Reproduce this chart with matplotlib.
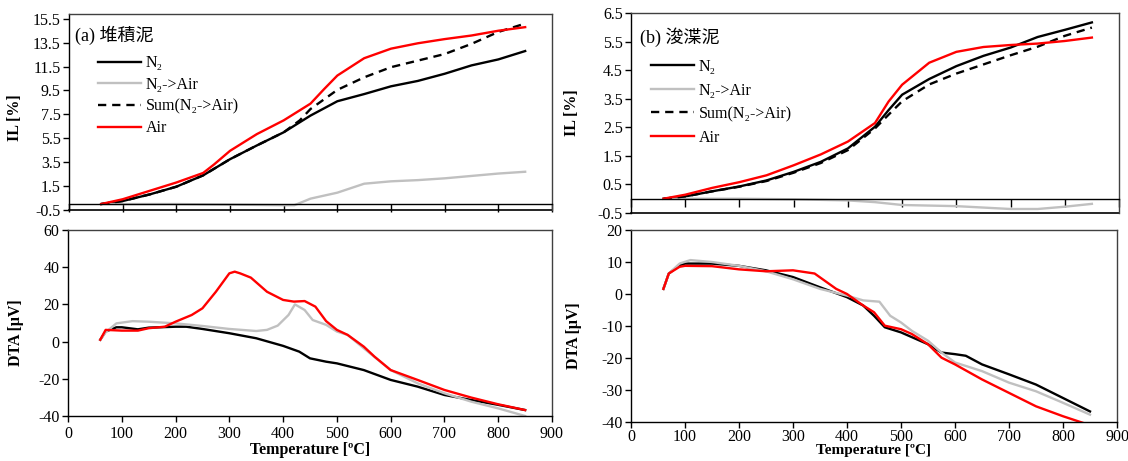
import matplotlib
matplotlib.use("Agg")
import matplotlib.pyplot as plt
import numpy as np

plt.rcParams['font.family'] = ['Liberation Serif', 'DejaVu Serif']
plt.rcParams['axes.linewidth'] = 1.0
plt.rcParams['axes.unicode_minus'] = False

# ---------------- data: (a) sediment -----------------
a_il_n2_T = [60, 100, 150, 200, 250, 300, 350, 400, 450, 500, 550, 600, 650, 700, 750, 800, 850]
a_il_n2 = [0.0, 0.25, 0.8, 1.45, 2.4, 3.75, 4.9, 6.0, 7.4, 8.6, 9.2, 9.85, 10.3, 10.9, 11.6, 12.1, 12.8]

a_il_n2air_T = [60, 200, 300, 400, 420, 450, 500, 550, 600, 650, 700, 750, 800, 850]
a_il_n2air = [0.0, 0.0, -0.05, -0.1, -0.1, 0.45, 0.95, 1.7, 1.9, 2.0, 2.15, 2.35, 2.55, 2.7]

a_il_sum_T = [60, 100, 150, 200, 250, 300, 350, 400, 430, 450, 500, 550, 600, 650, 700, 750, 800, 850]
a_il_sum = [0.0, 0.25, 0.8, 1.45, 2.4, 3.75, 4.9, 6.0, 7.0, 7.95, 9.55, 10.6, 11.45, 12.0, 12.55, 13.4, 14.4, 15.1]

a_il_air_T = [60, 100, 150, 200, 250, 270, 300, 350, 400, 450, 475, 500, 550, 600, 650, 700, 750, 800, 850]
a_il_air = [0.0, 0.4, 1.1, 1.8, 2.6, 3.3, 4.45, 5.85, 7.0, 8.4, 9.6, 10.75, 12.2, 13.0, 13.45, 13.8, 14.1, 14.5, 14.8]

a_dta_n2_T = [60, 70, 90, 100, 130, 150, 200, 220, 250, 300, 350, 400, 430, 450, 480, 500, 550, 600, 650, 700, 750, 800, 850]
a_dta_n2 = [1, 5.4, 7.7, 7.7, 6.6, 7.5, 8.0, 8.0, 6.8, 4.5, 1.8, -2.3, -5.4, -9, -10.8, -11.7, -15.3, -20.6, -24.2, -28.7, -31.4, -34, -36.8]

a_dta_n2air_T = [60, 70, 90, 120, 150, 200, 250, 300, 350, 370, 390, 410, 422, 440, 455, 480, 500, 520, 550, 600, 650, 700, 750, 800, 850]
a_dta_n2air = [1, 5, 9.8, 11, 10.7, 9.8, 8.4, 6.8, 5.7, 6.3, 8.6, 14.3, 20, 17, 11.6, 9, 5.4, 3.6, -3.6, -15.3, -22.4, -27.8, -32.3, -35.9, -40]

a_dta_air_T = [60, 70, 100, 130, 150, 180, 200, 230, 250, 275, 300, 310, 320, 340, 370, 400, 420, 440, 460, 480, 500, 520, 550, 570, 600, 650, 700, 750, 800, 850]
a_dta_air = [1, 6.3, 5.9, 5.9, 7.2, 8, 10.7, 14.3, 17.9, 26.8, 36.7, 37.6, 36.7, 34.4, 26.8, 22.4, 21.5, 21.8, 18.8, 11, 6.3, 3.6, -2.7, -8.1, -15.3, -20.6, -26, -30.1, -33.7, -36.8]

# ---------------- data: (b) dredged -----------------
b_il_n2_T = [60, 100, 150, 200, 250, 300, 350, 400, 450, 475, 500, 550, 600, 650, 700, 750, 800, 850]
b_il_n2 = [0.0, 0.08, 0.26, 0.43, 0.64, 0.94, 1.29, 1.76, 2.52, 3.1, 3.64, 4.19, 4.64, 5.0, 5.29, 5.66, 5.91, 6.17]

b_il_n2air_T = [60, 200, 300, 400, 450, 500, 600, 700, 750, 800, 850]
b_il_n2air = [0.0, 0.0, -0.02, -0.06, -0.12, -0.22, -0.26, -0.36, -0.36, -0.28, -0.18]

b_il_sum_T = [60, 100, 150, 200, 250, 300, 350, 400, 450, 475, 500, 550, 600, 650, 700, 750, 800, 850]
b_il_sum = [0.0, 0.08, 0.26, 0.42, 0.62, 0.91, 1.25, 1.7, 2.46, 2.94, 3.41, 4.0, 4.38, 4.7, 5.02, 5.32, 5.7, 5.99]

b_il_air_T = [60, 100, 150, 200, 250, 300, 350, 400, 450, 475, 500, 550, 600, 650, 700, 750, 800, 850]
b_il_air = [0.0, 0.14, 0.38, 0.58, 0.82, 1.17, 1.55, 2.0, 2.65, 3.4, 3.99, 4.76, 5.14, 5.31, 5.38, 5.43, 5.52, 5.64]

b_dta_n2_T = [60, 70, 90, 100, 150, 200, 250, 300, 350, 400, 430, 450, 470, 500, 550, 575, 600, 620, 650, 700, 750, 800, 850]
b_dta_n2 = [1.6, 6.4, 9, 9.5, 9.5, 8.8, 7.4, 5.3, 2.1, -1.0, -3.6, -6.8, -10.4, -12, -15.7, -18.3, -18.8, -19.3, -22, -25.1, -28.3, -32.5, -36.7]

b_dta_n2air_T = [60, 70, 90, 110, 150, 200, 250, 300, 350, 400, 430, 460, 480, 500, 520, 550, 575, 600, 650, 700, 750, 800, 850]
b_dta_n2air = [1.6, 6.4, 9.5, 10.6, 10, 8.8, 7.1, 4.6, 1.6, -0.5, -2, -2.4, -6.8, -8.9, -11.5, -14.6, -18.3, -21.4, -24.1, -27.7, -30.4, -34, -37.7]

b_dta_air_T = [60, 70, 90, 100, 150, 200, 250, 300, 340, 380, 400, 430, 450, 470, 500, 520, 550, 575, 600, 650, 700, 750, 800, 850]
b_dta_air = [1.6, 6.4, 8.5, 8.8, 8.7, 7.7, 7.1, 7.4, 6.4, 1.6, 0.0, -3.6, -5.7, -9.9, -11, -12.5, -15.7, -19.9, -22, -26.7, -30.9, -35.1, -38.2, -41]

labels = ['N\u2082', 'N\u2082->Air', 'Sum(N\u2082->Air)', 'Air']
titles = ['(a) 堆積泥', '(b) 浚渫泥']

C_BLACK = '#000000'
C_GRAY = '#c0c0c0'
C_RED = '#ff0000'

W, H = 1128, 461
fig = plt.figure(figsize=(W / 100, H / 100), dpi=100)


def box(x0, y0, x1, y1):
    return [x0 / W, 1 - y1 / H, (x1 - x0) / W, (y1 - y0) / H]


ax_at = fig.add_axes(box(69, 14, 552, 210))
ax_ab = fig.add_axes(box(68, 230, 552, 416))
ax_bt = fig.add_axes(box(631, 13, 1119, 213))
ax_bb = fig.add_axes(box(631, 230, 1117, 422))

TICKFS = 11.5
LABFS = 11.5


def style_top(ax, ylim, yticks, title, leg_x, leg_y, title_x, title_y, spacing):
    ax.set_xlim(0, 900)
    ax.set_ylim(*ylim)
    ax.set_yticks(yticks)
    ax.set_yticklabels([f'{v:.1f}' for v in yticks])
    ax.set_xticks(np.arange(0, 901, 100))
    ax.spines['bottom'].set_position(('data', 0))
    ax.tick_params(axis='x', direction='out', length=6, labelbottom=False, width=1)
    ax.tick_params(axis='y', direction='out', length=4, labelsize=TICKFS, width=1, pad=2)
    ax.plot([0, 1], [0, 0], transform=ax.transAxes, color='k', lw=1.2, clip_on=False)
    for s in ['right', 'top']:
        ax.spines[s].set_color('#404040')
    ax.set_ylabel('IL [%]', fontsize=LABFS, fontweight='bold')
    ax.text(title_x, title_y, title, transform=ax.transAxes, fontsize=13,
            family=['Liberation Serif', 'Noto Sans CJK JP'], va='center', ha='left')
    ax.legend(loc='upper left', bbox_to_anchor=(leg_x, leg_y), frameon=False,
              fontsize=11.5, handlelength=2.7, handletextpad=0.3,
              labelspacing=spacing, borderpad=0, borderaxespad=0)


def style_bottom(ax, ylim, yticks, xpad, labelpad, xlabfs):
    ax.set_xlim(0, 900)
    ax.set_ylim(*ylim)
    ax.set_yticks(yticks)
    ax.set_xticks(np.arange(0, 901, 100))
    ax.tick_params(direction='out', length=4, labelsize=TICKFS, width=1)
    ax.tick_params(axis='y', pad=2)
    ax.tick_params(axis='x', pad=xpad)
    for s in ['right', 'top']:
        ax.spines[s].set_color('#404040')
    ax.set_xlabel('Temperature [ºC]', fontsize=xlabfs, fontweight='bold', labelpad=labelpad)
    ax.set_ylabel('DTA [μV]', fontsize=LABFS, fontweight='bold')


LW = 1.7
# (a) IL
ax_at.plot(a_il_n2_T, a_il_n2, color=C_BLACK, lw=LW, label=labels[0])
ax_at.plot(a_il_n2air_T, a_il_n2air, color=C_GRAY, lw=LW, label=labels[1])
ax_at.plot(a_il_sum_T, a_il_sum, color=C_BLACK, lw=LW, ls=(0, (3.5, 2.5)), label=labels[2])
ax_at.plot(a_il_air_T, a_il_air, color=C_RED, lw=LW, label=labels[3])
style_top(ax_at, (-0.5, 15.9), np.arange(-0.5, 15.6, 2.0), titles[0], 0.06, 0.79, 0.012, 0.89, 0.36)
ax_at.yaxis.set_label_coords(-0.095, 0.47)

# (a) DTA
ax_ab.plot(a_dta_n2_T, a_dta_n2, color=C_BLACK, lw=LW)
ax_ab.plot(a_dta_n2air_T, a_dta_n2air, color=C_GRAY, lw=LW)
ax_ab.plot(a_dta_air_T, a_dta_air, color=C_RED, lw=LW)
style_bottom(ax_ab, (-40, 60), np.arange(-40, 61, 20), 3, 0, LABFS)
ax_ab.yaxis.set_label_coords(-0.09, 0.45)

# (b) IL
ax_bt.plot(b_il_n2_T, b_il_n2, color=C_BLACK, lw=LW, label=labels[0])
ax_bt.plot(b_il_n2air_T, b_il_n2air, color=C_GRAY, lw=LW, label=labels[1])
ax_bt.plot(b_il_sum_T, b_il_sum, color=C_BLACK, lw=LW, ls=(0, (3.5, 2.5)), label=labels[2])
ax_bt.plot(b_il_air_T, b_il_air, color=C_RED, lw=LW, label=labels[3])
style_top(ax_bt, (-0.5, 6.5), np.arange(-0.5, 6.6, 1.0), titles[1], 0.041, 0.77, 0.018, 0.88, 0.47)
ax_bt.yaxis.set_label_coords(-0.105, 0.5)

# (b) DTA
ax_bb.plot(b_dta_n2_T, b_dta_n2, color=C_BLACK, lw=LW)
ax_bb.plot(b_dta_n2air_T, b_dta_n2air, color=C_GRAY, lw=LW)
ax_bb.plot(b_dta_air_T, b_dta_air, color=C_RED, lw=LW)
style_bottom(ax_bb, (-40, 20), np.arange(-40, 21, 10), 1, -1, 11)
ax_bb.yaxis.set_label_coords(-0.1, 0.45)

fig.savefig('out.png', dpi=100)
